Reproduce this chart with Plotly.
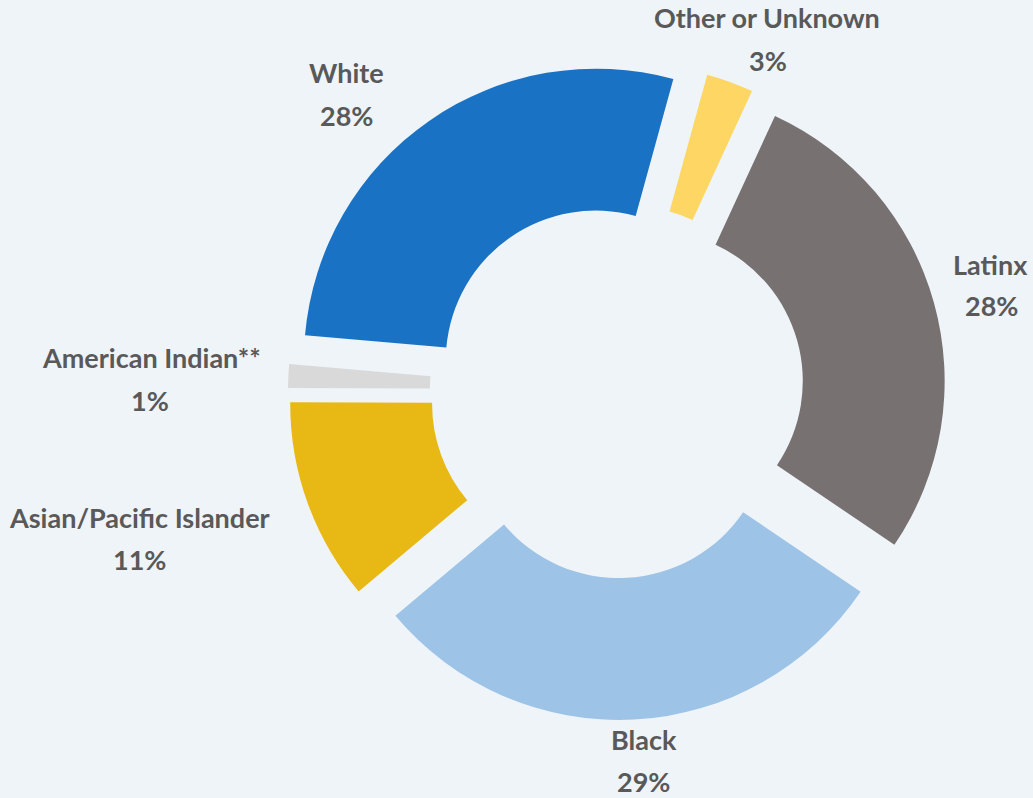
import plotly.graph_objects as go

# ---- data (shares) ----
categories = ["Other or Unknown", "Latinx", "Black", "Asian/Pacific Islander",
              "American Indian**", "White"]
shares = [2.6, 27.6, 29.4, 11.2, 1.3, 27.9]
pct_labels = ["3%", "28%", "29%", "11%", "1%", "28%"]

# ---- styles ----
colors = ["#FDD663", "#787171", "#9DC3E6", "#E8B914", "#D9D9D9", "#1A72C4"]
W, H = 1033, 798
BG = "#EFF4F9"
TXT = "#595959"
FONT = "Lato"

# label centres in pixels (name line, percent line)
label_pos = {
    "Other or Unknown": ((767, 18), (768, 61)),
    "Latinx": ((990, 264), (991, 306)),
    "Black": ((644, 739), (643, 781)),
    "Asian/Pacific Islander": ((139, 517), (139, 559)),
    "American Indian**": ((151, 357), (150, 400)),
    "White": ((346, 73), (346, 115)),
}

# pie geometry (pixels)
cx, cy, half = 617, 391, 329

fig = go.Figure(go.Pie(
    labels=categories,
    values=shares,
    sort=False,
    direction="clockwise",
    rotation=15.4,
    hole=0.514,
    pull=[0.127] * len(shares),
    marker=dict(colors=colors, line=dict(width=0)),
    textinfo="none",
    hoverinfo="label+percent",
    domain=dict(x=[(cx - half) / W, (cx + half) / W],
                y=[(H - cy - half) / H, (H - cy + half) / H]),
))

annotations = []
for name, pct in zip(categories, pct_labels):
    (x1, y1), (x2, y2) = label_pos[name]
    for txt, (x, y) in ((name, (x1, y1)), (pct, (x2, y2))):
        annotations.append(dict(
            text=txt, x=x / W, y=1 - y / H, xref="paper", yref="paper",
            xanchor="center", yanchor="middle", showarrow=False,
            font=dict(family=FONT, size=27, color=TXT, weight="bold"),
        ))

fig.update_layout(
    width=W, height=H,
    margin=dict(l=0, r=0, t=0, b=0),
    paper_bgcolor=BG, plot_bgcolor=BG,
    showlegend=False,
    annotations=annotations,
)

fig.write_html(
    "out.html",
    config={"displayModeBar": False},
    post_script="document.body.style.margin='0';document.body.style.background='%s';" % BG,
)
